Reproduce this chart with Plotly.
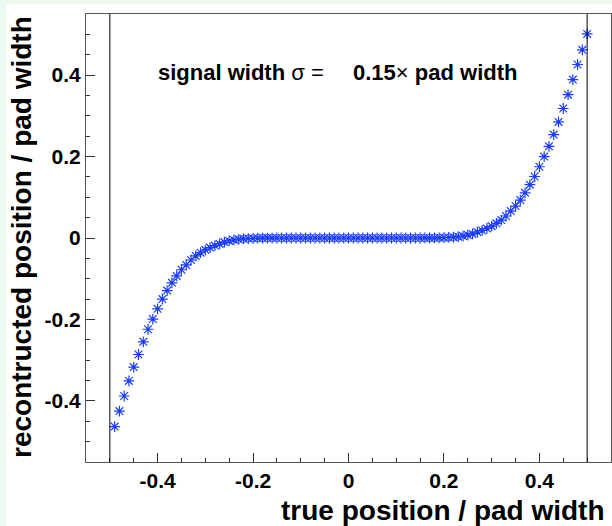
import plotly.graph_objects as go

# ---- data ----
x_true = [-0.49, -0.48, -0.47, -0.46, -0.45, -0.44, -0.43, -0.42, -0.41, -0.40,
          -0.39, -0.38, -0.37, -0.36, -0.35, -0.34, -0.33, -0.32, -0.31, -0.30,
          -0.29, -0.28, -0.27, -0.26, -0.25, -0.24, -0.23, -0.22, -0.21, -0.20,
          -0.19, -0.18, -0.17, -0.16, -0.15, -0.14, -0.13, -0.12, -0.11, -0.10,
          -0.09, -0.08, -0.07, -0.06, -0.05, -0.04, -0.03, -0.02, -0.01, 0.00,
          0.01, 0.02, 0.03, 0.04, 0.05, 0.06, 0.07, 0.08, 0.09, 0.10,
          0.11, 0.12, 0.13, 0.14, 0.15, 0.16, 0.17, 0.18, 0.19, 0.20,
          0.21, 0.22, 0.23, 0.24, 0.25, 0.26, 0.27, 0.28, 0.29, 0.30,
          0.31, 0.32, 0.33, 0.34, 0.35, 0.36, 0.37, 0.38, 0.39, 0.40,
          0.41, 0.42, 0.43, 0.44, 0.45, 0.46, 0.47, 0.48, 0.49, 0.50]

y_reco = [-0.463, -0.425, -0.388, -0.351, -0.317, -0.286, -0.255, -0.224, -0.199, -0.174,
          -0.150, -0.129, -0.110, -0.093, -0.078, -0.066, -0.054, -0.044, -0.036, -0.029,
          -0.0235, -0.0185, -0.0145, -0.010, -0.0072, -0.0048, -0.0032, -0.0021, -0.0013, -0.0008,
          -0.0005, -0.0003, -0.0002, -0.0001, 0.0, 0.0, 0.0, 0.0, 0.0, 0.0,
          0.0, 0.0, 0.0, 0.0, 0.0, 0.0, 0.0, 0.0, 0.0, 0.0,
          0.0, 0.0, 0.0, 0.0, 0.0, 0.0, 0.0, 0.0, 0.0, 0.0,
          0.0, 0.0, 0.0, 0.0, 0.0, 0.0001, 0.0002, 0.0003, 0.0005, 0.0008,
          0.0013, 0.0021, 0.0032, 0.0048, 0.0072, 0.010, 0.0145, 0.0185, 0.0235, 0.029,
          0.036, 0.044, 0.054, 0.066, 0.0785, 0.093, 0.111, 0.131, 0.151, 0.175,
          0.200, 0.225, 0.254, 0.285, 0.318, 0.352, 0.389, 0.426, 0.462, 0.501]

tick_vals = [-0.4, -0.2, 0.0, 0.2, 0.4]
tick_text = ["-0.4", "-0.2", "0", "0.2", "0.4"]
pad_edges = [-0.5, 0.5]

FONT = "Liberation Sans, Arial, Helvetica, sans-serif"
W, H = 612, 526
ML, MR, MT, MB = 86, 1, 14, 64
PW, PH = W - ML - MR, H - MT - MB

def px_to_paper_x(px):
    return (px - ML) / PW

def px_to_paper_y(py):
    return (H - MB - py) / PH

fig = go.Figure()
fig.add_trace(go.Scatter(
    x=x_true, y=y_reco, mode="markers",
    marker=dict(symbol="asterisk-open", size=9, color="#1a3cff",
                line=dict(color="#1a3cff", width=1.2)),
    showlegend=False, hoverinfo="skip"))

axis_common = dict(
    showgrid=False, zeroline=False, showline=True, mirror=True,
    linecolor="#555555", linewidth=1,
    ticks="inside", ticklen=9, tickwidth=1, tickcolor="#333333",
    tickfont=dict(family=FONT, size=21, color="black", weight="bold"),
    tickmode="array", tickvals=tick_vals, ticktext=tick_text,
    minor=dict(tick0=0, dtick=0.05, ticks="inside", ticklen=4,
               tickcolor="#333333", tickwidth=1, showgrid=False),
    range=[-0.55, 0.55],
)
fig.update_xaxes(**axis_common)
fig.update_yaxes(**axis_common)

shapes = [
    dict(type="rect", xref="paper", yref="paper",
         x0=px_to_paper_x(6), x1=px_to_paper_x(613),
         y0=px_to_paper_y(527), y1=px_to_paper_y(4),
         fillcolor="white", line=dict(width=0), layer="below"),
]
for xe in pad_edges:
    shapes.append(dict(type="line", xref="x", yref="paper", x0=xe, x1=xe,
                       y0=0, y1=1, line=dict(color="black", width=1)))

annotations = [
    dict(text="<b>signal width</b> σ =", xref="x", yref="y", x=-0.403, y=0.407,
         xanchor="left", yanchor="middle", showarrow=False,
         font=dict(family=FONT, size=22, color="black")),
    dict(text="<b>0.15</b>× <b>pad width</b>", xref="x", yref="y", x=0.006, y=0.407,
         xanchor="left", yanchor="middle", showarrow=False,
         font=dict(family=FONT, size=22, color="black")),
    dict(text="true position / pad width", xref="paper", yref="paper",
         x=1, y=px_to_paper_y(510), xanchor="right", yanchor="middle", xshift=-4,
         showarrow=False, font=dict(family=FONT, size=28, color="black", weight="bold")),
    dict(text="recontructed position / pad width", xref="paper", yref="paper",
         x=px_to_paper_x(22), y=px_to_paper_y(237), xanchor="center", yanchor="middle",
         textangle=-90, showarrow=False,
         font=dict(family=FONT, size=28, color="black", weight="bold")),
]

fig.update_layout(
    width=W, height=H,
    margin=dict(l=ML, r=MR, t=MT, b=MB),
    paper_bgcolor="#ebfaef", plot_bgcolor="white",
    shapes=shapes, annotations=annotations,
    font=dict(family=FONT),
)

fig.write_html("out.html")
